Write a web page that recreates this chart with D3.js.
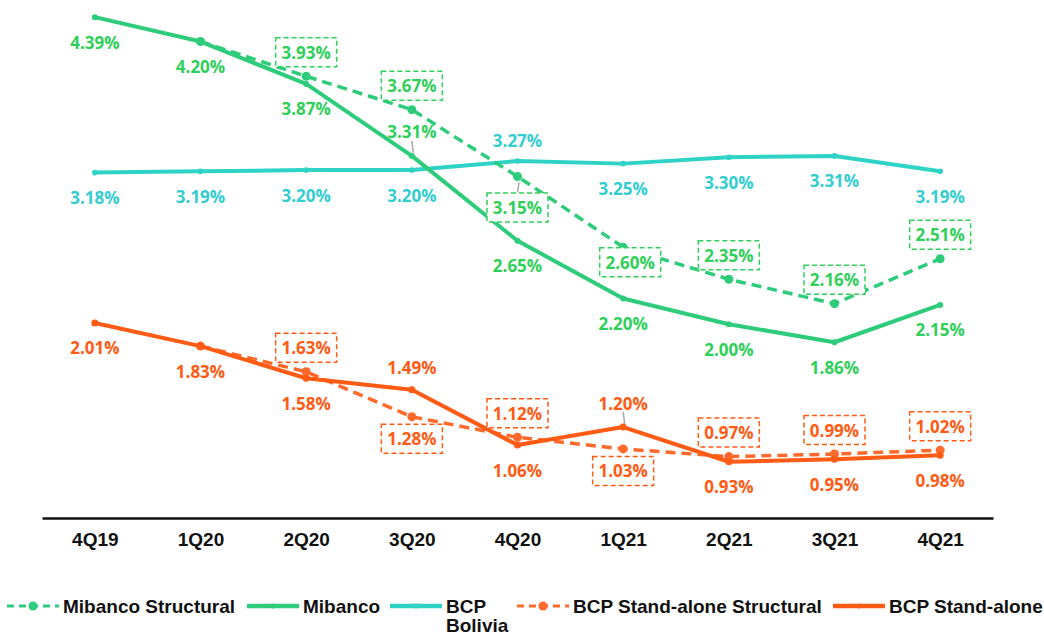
<!DOCTYPE html>
<html>
<head>
<meta charset="utf-8">
<script src="https://cdn.jsdelivr.net/npm/d3@7"></script>
<style>
  body { margin: 0; background: #fff; }
  svg { display: block; }
  .lbl { font-family: "Open Sans", "Noto Sans", sans-serif; font-weight: bold; font-size: 17px; }
  .axis text { font-family: "Liberation Sans", Arial, sans-serif; font-weight: bold; font-size: 19px; fill: #111; }
  .legend text { font-family: "Liberation Sans", Arial, sans-serif; font-weight: bold; font-size: 19px; fill: #111; }
</style>
</head>
<body>
<div id="chart"></div>
<script>
// quarters on the x axis
const quarters = ["4Q19", "1Q20", "2Q20", "3Q20", "4Q20", "1Q21", "2Q21", "3Q21", "4Q21"];

// values in %
const mibancoStructural = [null, 4.20, 3.93, 3.67, 3.15, 2.60, 2.35, 2.16, 2.51];
const mibanco = [4.39, 4.20, 3.87, 3.31, 2.65, 2.20, 2.00, 1.86, 2.15];
const bcpBolivia = [3.18, 3.19, 3.20, 3.20, 3.27, 3.25, 3.30, 3.31, 3.19];
const bcpStructural = [null, 1.83, 1.63, 1.28, 1.12, 1.03, 0.97, 0.99, 1.02];
const bcpStandalone = [2.01, 1.83, 1.58, 1.49, 1.06, 1.20, 0.93, 0.95, 0.98];

// where each value label goes: a = above, b = below, "" = none
const posMibancoStructural = ["", "", "a", "a", "b", "b", "a", "a", "a"];
const posMibanco = ["b", "b", "b", "a", "b", "b", "b", "b", "b"];
const posBolivia = ["b", "b", "b", "b", "a", "b", "b", "b", "b"];
const posBcpStructural = ["", "", "a", "b", "a", "b", "a", "a", "a"];
const posBcpStandalone = ["b", "b", "b", "a", "b", "a", "b", "b", "b"];

const width = 1044, height = 637;

const svg = d3
  .select("#chart")
  .append("svg")
  .attr("width", width)
  .attr("height", height);

const x = d3.scalePoint().domain(quarters).range([42, 993]).padding(0.5);
const y = d3.scaleLinear().domain([0.5, 4.5]).range([517, 3]);

// x axis: plain thick line + bold tick labels
const xAxis = svg
  .append("g")
  .attr("class", "axis")
  .attr("transform", "translate(0,518)")
  .call(d3.axisBottom(x).tickSize(0).tickPadding(11));
xAxis.select(".domain").attr("stroke", "#111").attr("stroke-width", 2.5);
xAxis.selectAll("text").attr("dy", "0.9em");

const series = [
  { name: "BCP Bolivia", values: bcpBolivia, pos: posBolivia, line: "#2ed3c6", text: "#33cdd0", dash: null, w: 4, r: 2.8, box: false },
  { name: "Mibanco", values: mibanco, pos: posMibanco, line: "#2ecc7a", text: "#2fcf5a", dash: null, w: 4, r: 3, box: false },
  { name: "Mibanco Structural", values: mibancoStructural, pos: posMibancoStructural, line: "#2ecc7a", text: "#2fcf5a", dash: "10,6", w: 3.5, r: 4.5, box: true },
  { name: "BCP Stand-alone Structural", values: bcpStructural, pos: posBcpStructural, line: "#ff6a2c", text: "#ff5b14", dash: "10,6", w: 3.5, r: 4.5, box: true },
  { name: "BCP Stand-alone", values: bcpStandalone, pos: posBcpStandalone, line: "#ff5b14", text: "#ff5b14", dash: null, w: 4, r: 3.5, box: false }
];

const line = d3
  .line()
  .defined(d => d.v != null)
  .x(d => x(d.q))
  .y(d => y(d.v));

// small nudges for a few crowded labels
const nudge = {
  "Mibanco Structural|4Q20": { dy: 6, leader: true },
  "Mibanco Structural|1Q21": { dy: -10, dx: 7 },
  "Mibanco|3Q20": { leader: true },
  "BCP Bolivia|4Q20": { dy: 3 },
  "BCP Stand-alone|3Q20": { dy: 2 },
  "BCP Stand-alone|1Q21": { leader: true },
  "BCP Stand-alone Structural|3Q20": { dy: -3 },
  "BCP Stand-alone Structural|1Q21": { dy: -3 }
};

series.forEach(s => {
  const pts = quarters.map((q, i) => ({ q: q, v: s.values[i], p: s.pos[i] }));
  const g = svg.append("g");
  g.append("path")
    .datum(pts)
    .attr("d", line)
    .attr("fill", "none")
    .attr("stroke", s.line)
    .attr("stroke-width", s.w)
    .attr("stroke-dasharray", s.dash)
    .attr("stroke-linejoin", "round");
  g.selectAll("circle")
    .data(pts.filter(d => d.v != null))
    .enter()
    .append("circle")
    .attr("cx", d => x(d.q))
    .attr("cy", d => y(d.v))
    .attr("r", s.r)
    .attr("fill", s.line);
  s.pts = pts;
});

// labels on top of every line
series.forEach(s => {
  const g = svg.append("g");
  s.pts.filter(d => d.v != null && d.p).forEach(d => {
    const n = nudge[s.name + "|" + d.q] || {};
    const cx = x(d.q) + (n.dx || 0);
    const py = y(d.v);
    const cy = py + (d.p == "a" ? -24 : 25) + (n.dy || 0);
    if (n.leader) {
      const y1 = d.p == "a" ? cy + 9 : cy - 15;
      const y2 = d.p == "a" ? py - 3 : py + 6;
      g.append("line")
        .attr("x1", cx).attr("x2", cx + 1.5)
        .attr("y1", y1).attr("y2", y2)
        .attr("stroke", "#aaa")
        .attr("stroke-width", 1.5);
    }
    if (s.box) {
      g.append("rect")
        .attr("x", cx - 30.5)
        .attr("y", cy - 14.5)
        .attr("width", 61)
        .attr("height", 29)
        .attr("fill", "#fff")
        .attr("stroke", s.text)
        .attr("stroke-width", 1.5)
        .attr("stroke-dasharray", "5,3");
    }
    g.append("text")
      .attr("class", "lbl")
      .attr("x", cx)
      .attr("y", cy)
      .attr("text-anchor", "middle")
      .attr("dominant-baseline", "central")
      .attr("fill", s.text)
      .text(d.v.toFixed(2) + "%");
  });
});

// legend
const legendItems = [
  { s: series[2], x: 7 },
  { s: series[1], x: 247 },
  { s: series[0], x: 390 },
  { s: series[3], x: 517 },
  { s: series[4], x: 833 }
];
const legend = svg.append("g").attr("class", "legend").attr("transform", "translate(0,606)");
legendItems.forEach(it => {
  const s = it.s;
  const g = legend.append("g").attr("transform", "translate(" + it.x + ",0)");
  g.append("line")
    .attr("x1", 0).attr("x2", 52)
    .attr("stroke", s.line)
    .attr("stroke-width", s.dash ? 3 : 4.5)
    .attr("stroke-dasharray", s.dash ? "7,5" : null);
  g.append("circle").attr("cx", 26).attr("r", s.dash ? 4.5 : 2.5).attr("fill", s.line);
  const t = g.append("text").attr("x", 56).attr("y", 6.5);
  if (s.name == "BCP Bolivia") {
    t.append("tspan").text("BCP");
    t.append("tspan").attr("x", 56).attr("dy", 19.5).text("Bolivia");
  } else {
    t.text(s.name);
  }
});
</script>
</body>
</html>
